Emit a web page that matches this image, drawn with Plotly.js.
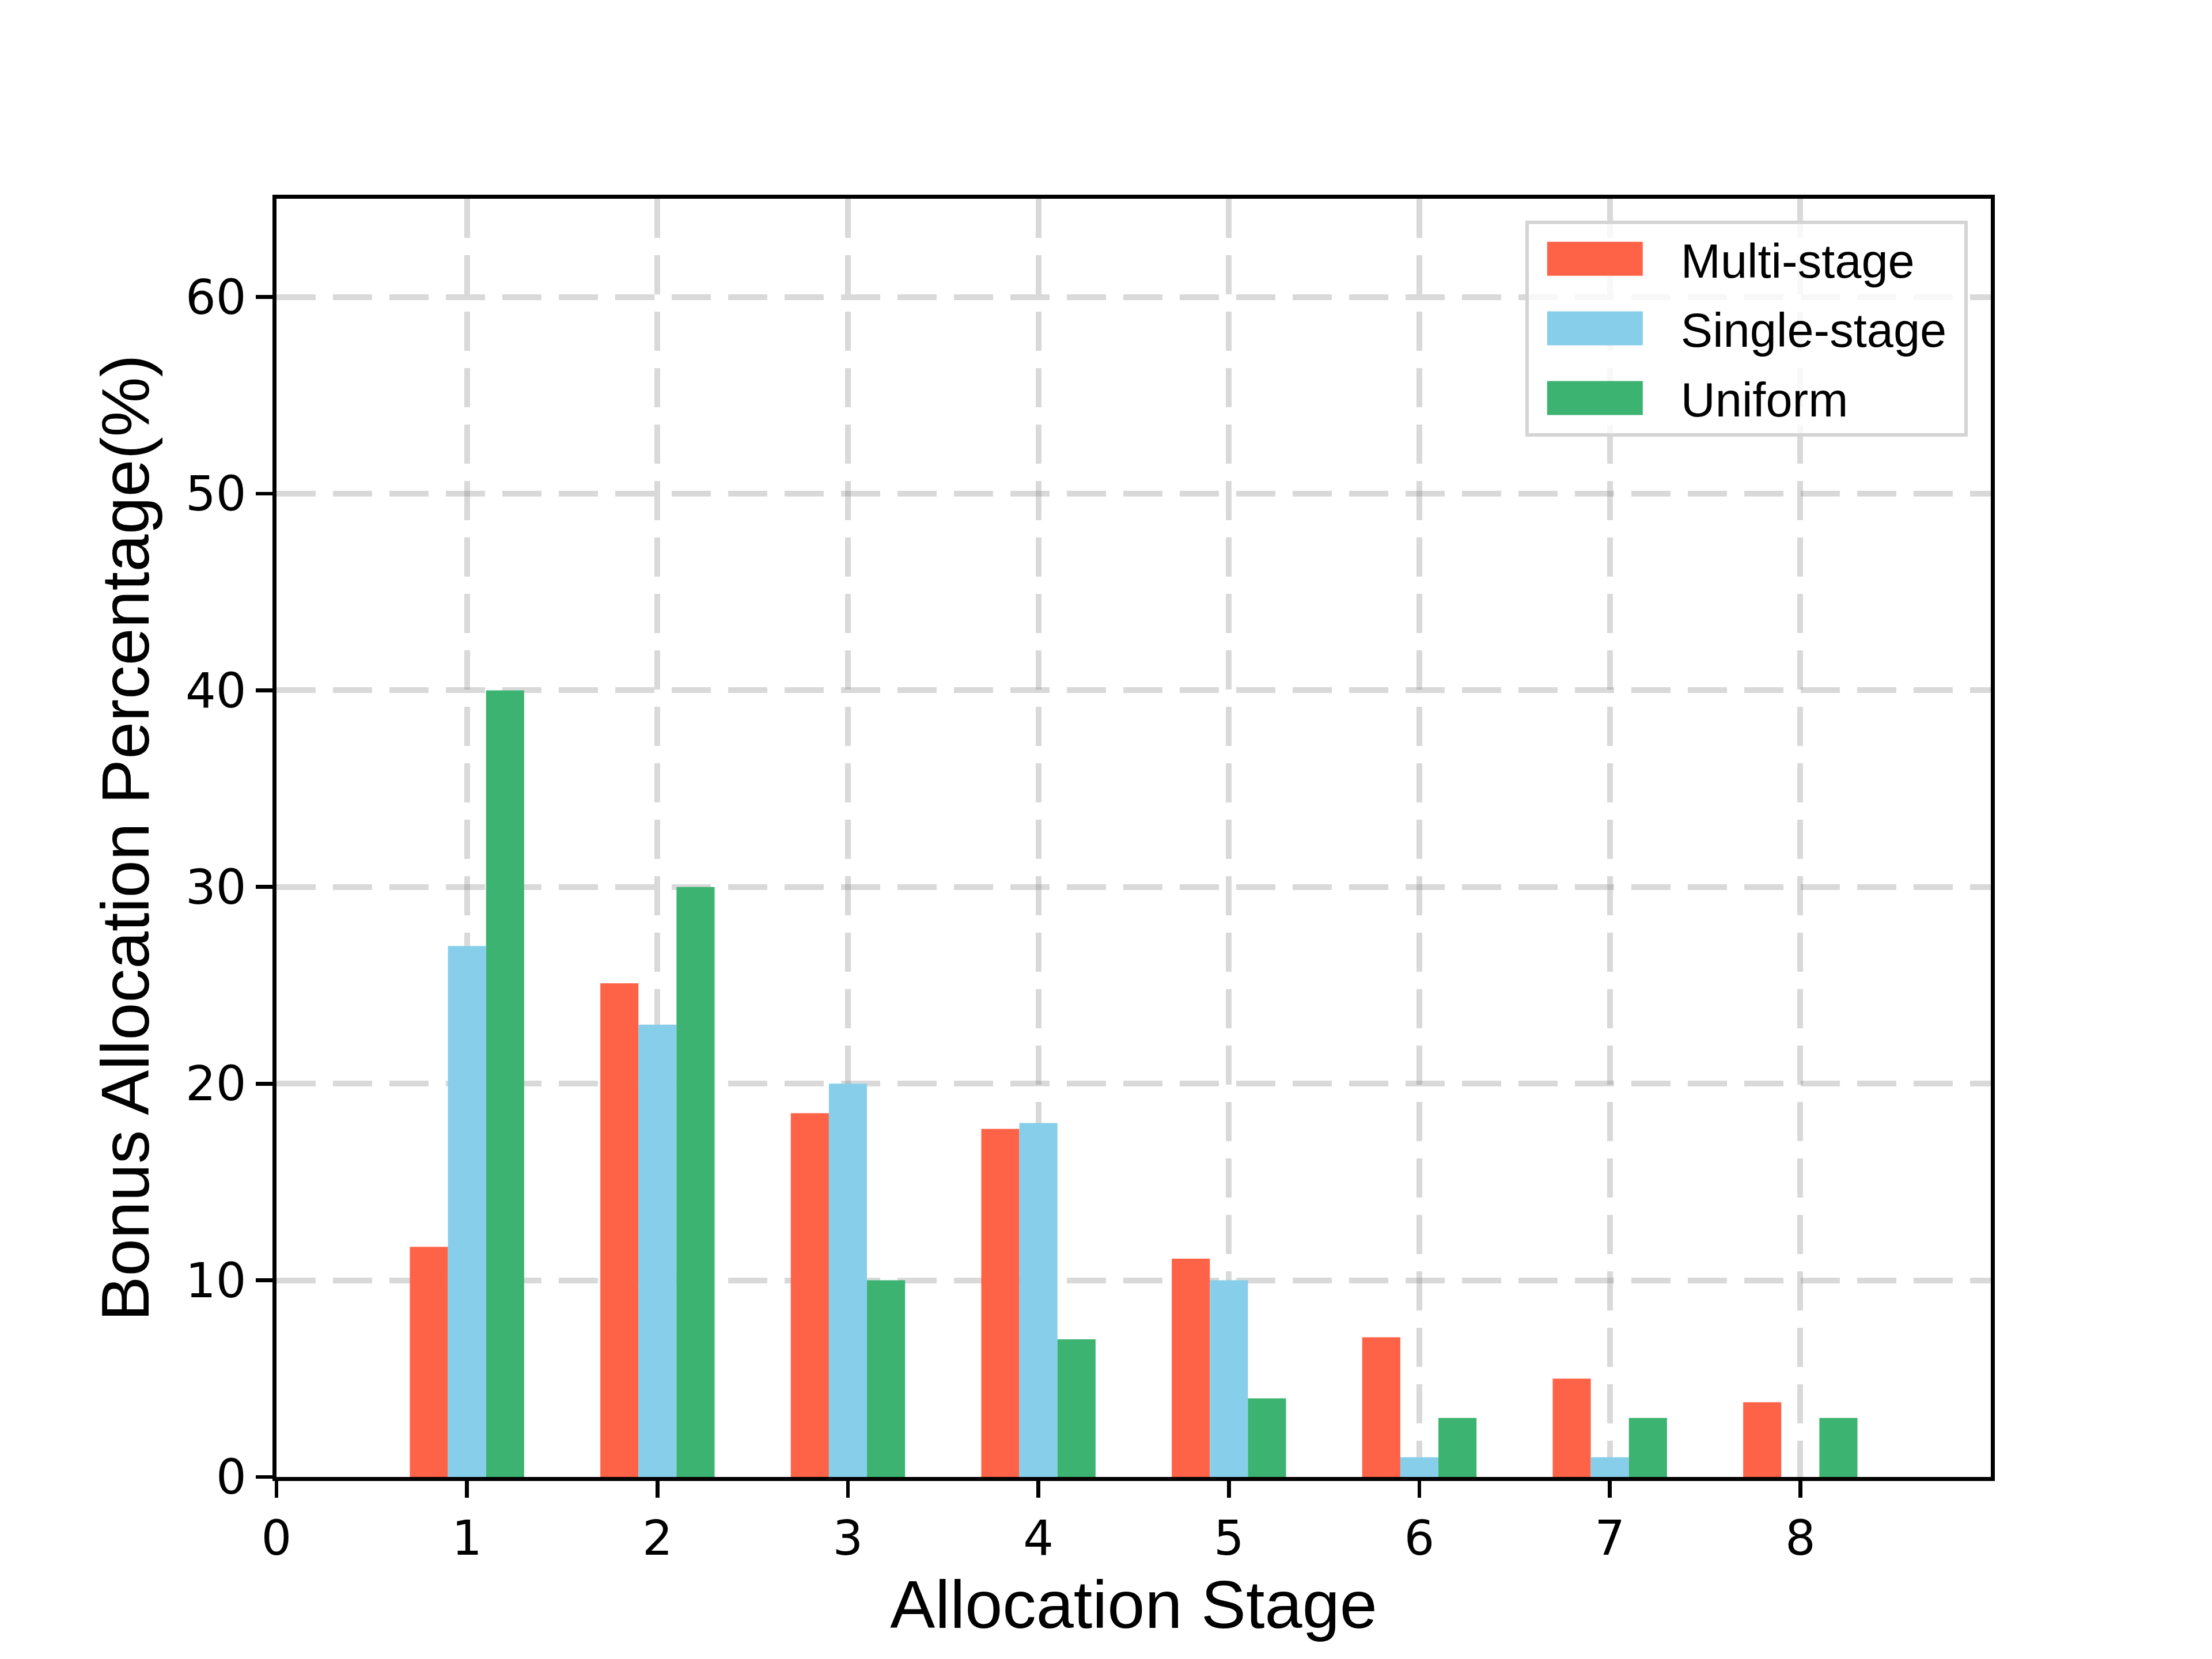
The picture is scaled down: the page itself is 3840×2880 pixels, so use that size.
<!DOCTYPE html>
<html>
<head>
<meta charset="utf-8">
<script src="https://cdn.plot.ly/plotly-3.0.1.min.js"></script>
<style>html,body{margin:0;padding:0;background:#fff;}#chart{width:3840px;height:2880px;}</style>
</head>
<body>
<div id="chart"></div>
<script>
const stages = [1, 2, 3, 4, 5, 6, 7, 8];
const multiStage = [11.7, 25.1, 18.5, 17.7, 11.1, 7.1, 5.0, 3.8];
const singleStage = [27, 23, 20, 18, 10, 1, 1, 0];
const uniform = [40, 30, 10, 7, 4, 3, 3, 3];
const xTickVals = [0, 1, 2, 3, 4, 5, 6, 7, 8];
const yTickVals = [0, 10, 20, 30, 40, 50, 60];

const names = ['Multi-stage', 'Single-stage', 'Uniform'];
const colors = ['#FF6347', '#87CEEB', '#3CB371'];
const series = [multiStage, singleStage, uniform];

const traces = series.map((vals, i) => ({
  type: 'bar',
  x: stages,
  y: vals,
  name: names[i],
  legendgroup: 'g' + i,
  marker: {color: colors[i], line: {width: 0}},
  hoverinfo: 'skip'
}));

const gridColor = 'rgba(128,128,128,0.3)';
const layout = {
  width: 3840,
  height: 2880,
  paper_bgcolor: '#ffffff',
  plot_bgcolor: '#ffffff',
  margin: {l: 480, r: 384, t: 345, b: 316, pad: 0},
  barmode: 'group',
  bargap: 0.4,
  bargroupgap: 0,
  showlegend: true,
  legend: {
    x: 0.9865, y: 0.983, xanchor: 'right', yanchor: 'top',
    bgcolor: 'rgba(255,255,255,0.8)',
    bordercolor: '#d4d4d4', borderwidth: 6,
    font: {family: 'Liberation Sans, Arial, sans-serif', size: 83, color: '#000'},
    itemwidth: 254,
    tracegroupgap: 10
  },
  xaxis: {
    range: [0, 9],
    tickmode: 'array',
    tickvals: xTickVals,
    ticktext: xTickVals.map(String),
    ticks: 'outside', ticklen: 29, tickwidth: 6.7, tickcolor: '#000',
    showline: true, linecolor: '#000', linewidth: 6.7, mirror: true,
    showgrid: true, gridcolor: gridColor, gridwidth: 10, griddash: '68px,30px',
    zeroline: false,
    layer: 'above traces',
    tickfont: {family: 'DejaVu Sans, sans-serif', size: 83, color: '#000'},
    title: {text: 'Allocation Stage', font: {family: 'Liberation Sans, Arial, sans-serif', size: 117, color: '#000'}, standoff: 28},
    automargin: false
  },
  yaxis: {
    range: [0, 65],
    tickmode: 'array',
    tickvals: yTickVals,
    ticktext: yTickVals.map(String),
    ticks: 'outside', ticklen: 29, tickwidth: 6.7, tickcolor: '#000',
    showline: true, linecolor: '#000', linewidth: 6.7, mirror: true,
    showgrid: true, gridcolor: gridColor, gridwidth: 10, griddash: '68px,30px',
    zeroline: false,
    layer: 'above traces',
    tickfont: {family: 'DejaVu Sans, sans-serif', size: 83, color: '#000'},
    title: {text: 'Bonus Allocation Percentage(%)', font: {family: 'Liberation Sans, Arial, sans-serif', size: 117, color: '#000'}, standoff: 26},
    automargin: false
  }
};

Plotly.newPlot('chart', traces, layout, {staticPlot: true, displayModeBar: false}).then(() => {
  // widen the legend swatches to matplotlib-like rectangles
  document.querySelectorAll('.legend .traces').forEach(tr => {
    const text = tr.querySelector('text.legendtext');
    if (!text) return;
    const tBox = text.getBBox();
    const tCTM = text.getCTM();
    const textLeftAbs = tCTM.e + tBox.x;
    tr.querySelectorAll('.legendpoints path').forEach(p => {
      const pe = p.getCTM().e;
      const right = textLeftAbs - 66 - pe;
      const left = right - 166;
      p.setAttribute('d', `M${left},-29.5H${right}V29.5H${left}Z`);
    });
  });
  // add right-hand padding inside the legend box (keep right edge fixed)
  const extra = 25;
  const leg = document.querySelector('g.legend');
  const bg = leg && leg.querySelector('rect.bg');
  if (leg && bg) {
    const w = parseFloat(bg.getAttribute('width'));
    bg.setAttribute('width', w + extra);
    const tf = leg.getAttribute('transform') || '';
    const m = tf.match(/translate\(\s*([-\d.]+)[ ,]+([-\d.]+)\s*\)/);
    if (m) leg.setAttribute('transform', `translate(${parseFloat(m[1]) - extra},${m[2]})`);
  }
});
</script>
</body>
</html>
